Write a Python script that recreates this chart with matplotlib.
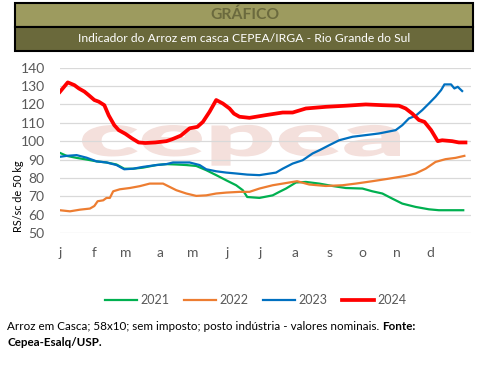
import matplotlib
matplotlib.use("Agg")
import matplotlib.pyplot as plt
from matplotlib.patches import Rectangle, PathPatch
from matplotlib.textpath import TextPath
from matplotlib.font_manager import FontProperties
from matplotlib.transforms import Affine2D

plt.rcParams['font.family'] = ['Lato', 'DejaVu Sans']

month_pos = [0, 31, 59, 90, 120, 151, 181, 212, 243, 273, 304, 334]
month_labels = ['j', 'f', 'm', 'a', 'm', 'j', 'j', 'a', 's', 'o', 'n', 'd']
yticks = [50, 60, 70, 80, 90, 100, 110, 120, 130, 140]

x2021 = [0, 6, 15, 24, 33, 42, 51, 58, 66, 75, 87, 96, 105, 114, 123, 132, 141, 150, 159, 165,
         169, 180, 192, 198, 204, 213, 222, 234, 246, 258, 273, 282, 291, 300, 309, 321, 333, 342, 354, 364]
y2021 = [93.6, 92, 90.9, 90, 89, 88.4, 87.3, 85, 85, 85.6, 87, 87.5, 87.3, 87, 86.5, 84.2, 81.5, 78.7, 76, 73.3,
         69.6, 69.1, 70.5, 72.4, 74.2, 77.5, 77.8, 76.9, 75.6, 74.5, 74.2, 72.7, 71.5, 68.7, 66, 64.2, 62.9, 62.4, 62.4, 62.4]

x2022 = [0, 9, 18, 27, 31, 34, 39, 42, 45, 48, 54, 63, 72, 81, 93, 99, 105, 114, 123, 132, 141, 150, 162,
         171, 180, 192, 207, 214, 225, 240, 255, 267, 282, 297, 312, 321, 330, 339, 348, 357, 365]
y2022 = [62.4, 61.8, 62.7, 63.3, 64.7, 67.3, 67.8, 69.1, 69.1, 72.7, 73.8, 74.5, 75.5, 76.9, 76.9, 75.1, 73.3, 71.5, 70.2, 70.5, 71.5, 72, 72.4,
         72.4, 74.2, 76, 77.5, 78.2, 76.4, 75.6, 76, 76.9, 78.2, 79.6, 81.1, 82.4, 85, 88.7, 90.2, 90.9, 92]

x2023 = [0, 6, 15, 24, 33, 42, 51, 58, 66, 75, 87, 96, 102, 109, 117, 126, 132, 141, 150, 159, 169,
         180, 195, 201, 210, 219, 228, 234, 243, 252, 264, 276, 288, 303, 309, 315, 321, 327, 333, 339, 344, 347, 353, 356, 359, 363]
y2023 = [91.5, 92, 92.4, 91, 89, 88.4, 87, 84.7, 85, 86, 87, 87.5, 88.4, 88.4, 88.4, 87, 84.7, 83.6, 82.9, 82.4, 81.8,
         81.5, 82.9, 85, 87.8, 89.6, 93.3, 95, 97.8, 100.5, 102.4, 103.3, 104.2, 106, 108.7, 112.4, 113.8, 116.9, 120.5, 124.2, 127.8, 130.9, 130.9, 128.7, 129.6, 127.3]

x2024 = [0, 7, 13, 17, 22, 26, 31, 35, 40, 44, 49, 53, 59, 65, 71, 77, 86, 96, 101, 109, 117, 124, 129, 135, 141, 147, 153, 157, 162,
         171, 186, 201, 210, 222, 240, 258, 276, 291, 306, 312, 318, 324, 329, 335, 341, 345, 354, 360, 366]
y2024 = [126.9, 132, 130.5, 128.7, 127, 125, 122.4, 121.5, 119.6, 114, 108.7, 106, 104, 101.5, 99.3, 99, 99.3, 100, 101, 103, 107, 107.8, 110.5, 116, 122.4, 120.5, 117.8, 115, 113.3,
         112.7, 114.2, 115.6, 115.6, 117.8, 118.7, 119.3, 120, 119.6, 119.3, 117.8, 115, 111.5, 110.5, 106, 100, 100.5, 100, 99.3, 99.3]

W, H = 488, 366
fig = plt.figure(figsize=(W / 100, H / 100), dpi=100)

def fx(px): return px / W
def fy(py): return 1 - py / H

# Faint watermark
fp = FontProperties(family='Lato', weight='heavy')
tp = TextPath((0, 0), 'cepea', size=1, prop=fp)
ext = tp.get_extents()
xh = TextPath((0, 0), 'c', size=1, prop=fp).get_extents().y1
x0p, x1p, topp, basep = 82, 400, 125, 156
sx = (x1p - x0p) / W / ext.width
sy = (basep - topp) / H / xh
tr = Affine2D().translate(-ext.x0, 0).scale(sx, sy).translate(fx(x0p), fy(basep)) + fig.transFigure
fig.patches.append(PathPatch(tp, transform=tr, facecolor='#F4E0DC', edgecolor='none', zorder=-1))

# Header
fig.patches.append(Rectangle((fx(15), fy(27)), fx(458), 24 / H, transform=fig.transFigure,
                             facecolor='#9D9B5F', edgecolor='black', lw=1.5, zorder=1))
fig.patches.append(Rectangle((fx(15), fy(51)), fx(458), 24 / H, transform=fig.transFigure,
                             facecolor='#6A693B', edgecolor='black', lw=1.5, zorder=1))
fig.text(fx(245), fy(15), 'GRÁFICO', ha='center', va='center', fontsize=11.3, fontweight='bold', color='#6B6A3E')
fig.text(fx(244), fy(39), 'Indicador do Arroz em casca CEPEA/IRGA - Rio Grande do Sul',
         ha='center', va='center', fontsize=8.7, color='white')

ax = fig.add_axes([fx(60), fy(233), fx(471 - 60), (233 - 67.7) / H])
ax.set_facecolor('none')
ax.plot(x2021, y2021, color='#00B050', lw=1.6, label='2021')
ax.plot(x2022, y2022, color='#ED7D31', lw=1.6, label='2022')
ax.plot(x2023, y2023, color='#0070C0', lw=1.6, label='2023')
ax.plot(x2024, y2024, color='#FF0000', lw=2.7, label='2024')

ax.set_ylim(50, 140)
ax.set_xlim(0, 371)
ax.set_yticks(yticks)
ax.set_xticks(month_pos)
ax.set_xticklabels(month_labels)
ax.grid(axis='y', color='#D9D9D9', lw=0.9)
ax.set_axisbelow(True)
for s in ax.spines.values():
    s.set_visible(False)
ax.tick_params(axis='both', length=0, labelsize=10, colors='#595959')
ax.tick_params(axis='x', pad=10)
ax.tick_params(axis='y', pad=11)
fig.text(fx(18), fy(196), 'RS/sc de 50 kg', rotation=90, ha='center', va='center', fontsize=7.8, color='black')

leg = fig.legend(loc='center', bbox_to_anchor=(fx(256), fy(300)), ncol=4, frameon=False,
                 fontsize=9, handlelength=2.5, columnspacing=1.2, handletextpad=0.3)
for t in leg.get_texts():
    t.set_color('#595959')

# Footer
t1 = fig.text(fx(7), fy(326), 'Arroz em Casca; 58x10; sem imposto; posto indústria - valores nominais. ',
              ha='left', va='center', fontsize=8.4, color='black')
fig.canvas.draw()
bb = t1.get_window_extent(fig.canvas.get_renderer())
fig.text(bb.x1 / W, fy(326), 'Fonte:', ha='left', va='center', fontsize=8.4, fontweight='bold', color='black')
fig.text(fx(7), fy(343), 'Cepea-Esalq/USP.', ha='left', va='center', fontsize=8.4, fontweight='bold', color='black')

fig.savefig('out.png', dpi=100)
